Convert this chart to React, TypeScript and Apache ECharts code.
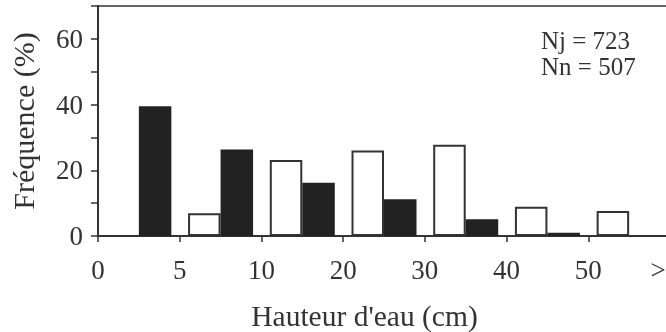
import React, { useEffect, useRef } from "react";
import * as echarts from "echarts";

const intervals = ["0-5", "5-10", "10-20", "20-30", "30-40", "40-50", ">50"];
const tickLabels = ["0", "5", "10", "20", "30", "40", "50", ">"];
const jourValues = [0, 6.9, 23.1, 26.0, 27.8, 8.9, 7.6];
const nuitValues = [39.5, 26.3, 16.2, 11.2, 5.1, 1.0, 0];
const yLabels = [0, 20, 40, 60];
const annotation = ["Nj = 723", "Nn = 507"];

const FONT = "Liberation Serif";
const INK = "#333";

export default function App() {
  const ref = useRef<HTMLDivElement>(null);
  useEffect(() => {
    const chart = echarts.init(ref.current!, null, { renderer: "svg" });
    chart.setOption({
      animation: false,
      grid: {
        left: 98,
        right: 2,
        top: 6,
        bottom: 96,
        show: true,
        borderColor: INK,
        borderWidth: 1.5,
        backgroundColor: "transparent",
      },
      xAxis: [
        {
          type: "category",
          data: intervals,
          boundaryGap: true,
          show: false,
          position: "bottom",
        },
        {
          type: "value",
          min: 0,
          max: tickLabels.length - 1,
          interval: 1,
          position: "bottom",
          axisLine: { show: true, lineStyle: { color: INK, width: 2 } },
          axisTick: { show: true, length: 6, lineStyle: { color: INK, width: 1.5 } },
          splitLine: { show: false },
          axisLabel: {
            margin: 20,
            color: INK,
            fontSize: 27,
            fontFamily: FONT,
            formatter: (v: number) => {
              const t = tickLabels[Math.round(v)] ?? "";
              return t === ">" ? "{g|>}" : t;
            },
            rich: {
              g: { fontSize: 27, fontFamily: FONT, color: INK, padding: [0, 24, 0, 0] },
            },
          },
        },
      ],
      yAxis: {
        type: "value",
        min: 0,
        max: 70,
        interval: 10,
        name: "Fréquence (%)",
        nameLocation: "middle",
        nameRotate: 90,
        nameGap: 60,
        nameTextStyle: { fontSize: 30, fontFamily: FONT, color: INK },
        axisLine: { show: true, lineStyle: { color: INK, width: 2 } },
        axisTick: { show: true, length: 7, lineStyle: { color: INK, width: 1.5 } },
        splitLine: { show: false },
        axisLabel: {
          margin: 15,
          color: INK,
          fontSize: 27,
          fontFamily: FONT,
          formatter: (v: number) => (yLabels.includes(v) ? String(v) : ""),
        },
      },
      series: [
        {
          name: "Jour",
          type: "bar",
          xAxisIndex: 0,
          data: jourValues,
          barWidth: 32.5,
          barGap: "0%",
          itemStyle: { color: "#fff", borderColor: INK, borderWidth: 2 },
        },
        {
          name: "Nuit",
          type: "bar",
          xAxisIndex: 0,
          data: nuitValues,
          barWidth: 32.5,
          barGap: "0%",
          itemStyle: { color: "#222" },
        },
      ],
      graphic: [
        ...annotation.map((t, i) => ({
          type: "text",
          left: 541,
          top: 28 + i * 25.5,
          style: {
            text: t,
            font: `25px "${FONT}"`,
            fill: INK,
          },
        })),
        {
          type: "text",
          x: 364.5,
          y: 301,
          style: {
            text: "Hauteur d'eau (cm)",
            font: `29.5px "${FONT}"`,
            textAlign: "center",
            textVerticalAlign: "top",
            fill: INK,
          },
        },
      ],
    });
    return () => chart.dispose();
  }, []);
  return (
    <div
      ref={ref}
      style={{ position: "fixed", left: 0, top: 0, width: 672, height: 332 }}
    />
  );
}
